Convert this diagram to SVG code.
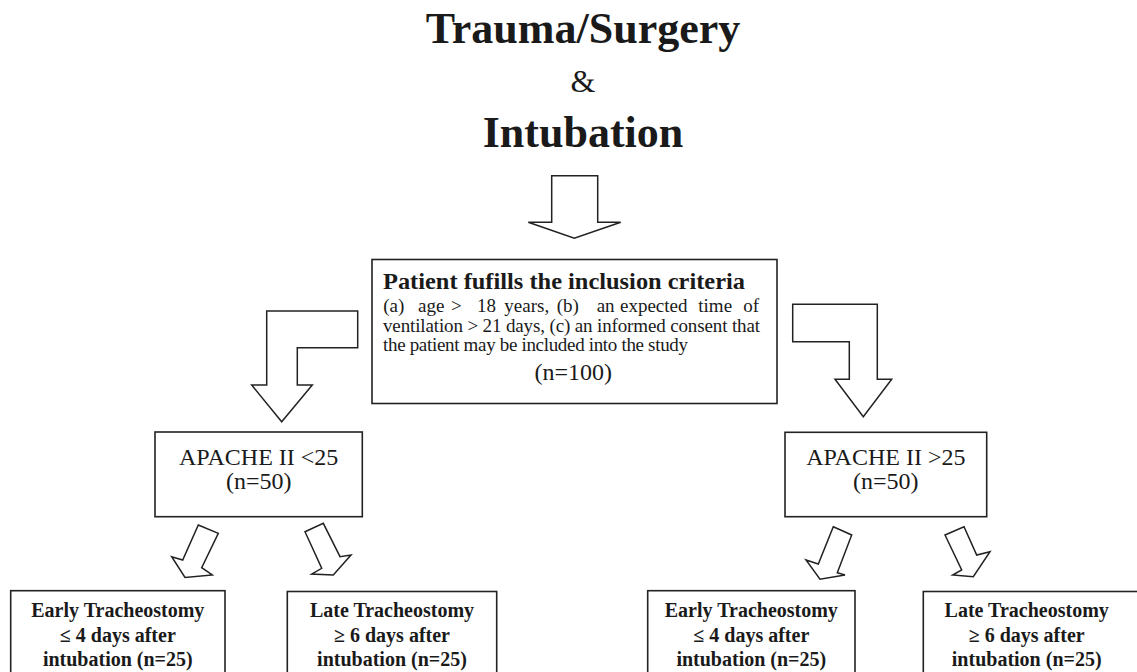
<svg xmlns="http://www.w3.org/2000/svg" width="1137" height="672" viewBox="0 0 1137 672">
<style>
.box{fill:#fff;stroke:#222;stroke-width:1.6}
.arr{fill:#fff;stroke:#222;stroke-width:1.5;stroke-linejoin:miter}
.t{font-family:"Liberation Serif","Times New Roman",serif;fill:#1a1a1a}
.b{font-weight:bold}
.c{text-anchor:middle}
</style>
<rect width="1137" height="672" fill="#fff"/>
<g id="title">
<text class="t b c" x="583" y="43" font-size="44">Trauma/Surgery</text>
<text class="t c" x="583" y="92" font-size="32">&amp;</text>
<text class="t b c" x="583" y="147" font-size="44">Intubation</text>
</g>
<g id="connectors">
<path class="arr" d="M551.7,175.7 L597.7,175.7 L597.7,222.3 L620.7,222.3 L574.3,238.3 L528.3,222.3 L551.7,222.3 Z"/>
<path class="arr" d="M266.7,311 L357.7,311 L357.7,347.7 L297.3,347.7 L297.3,385 L312.3,385 L281.7,421.7 L251.7,385 L266.7,385 Z"/>
<path class="arr" d="M792.7,304.3 L877.3,304.3 L877.3,379.3 L891.7,379.3 L863.3,416.7 L835,379.3 L849.3,379.3 L849.3,341.7 L792.7,341.7 Z"/>
<path class="arr" d="M198.3,525 L218.3,533.3 L201.7,567.7 L212.3,575 L185,577.5 L171.7,556.7 L182.7,560 Z"/>
<path class="arr" d="M305,531.7 L323.3,523.3 L340,556.7 L351,555 L333.3,575 L311.7,574 L321.7,568.3 Z"/>
<path class="arr" d="M833.3,526.7 L851.7,535 L837.3,572.7 L845,575 L820,579.3 L806,560 L818.3,564 Z"/>
<path class="arr" d="M945,535 L964,526.7 L976.7,555 L990,551.7 L973.3,576.7 L952.7,575 L961.7,570 Z"/>
</g>
<g id="inclusion">
<rect class="box" x="372" y="259.5" width="405" height="144"/>
<text class="t b" x="383" y="289" font-size="24" textLength="362" lengthAdjust="spacingAndGlyphs">Patient fufills the inclusion criteria</text>
<g class="t" font-size="19">
<text x="383.3" y="312">(a)</text>
<text x="418" y="312">age</text>
<text x="451" y="312">&gt;</text>
<text x="477" y="312">18</text>
<text x="504.3" y="312">years,</text>
<text x="556.7" y="312">(b)</text>
<text x="596.7" y="312">an</text>
<text x="620" y="312">expected</text>
<text x="698.3" y="312">time</text>
<text x="743.3" y="312">of</text>
<text x="383" y="331.7" textLength="377" lengthAdjust="spacing">ventilation &gt; 21 days, (c) an informed consent that</text>
<text x="383" y="351" textLength="305" lengthAdjust="spacing">the patient may be included into the study</text>
</g>
<text class="t c" x="573.3" y="380" font-size="24">(n=100)</text>
</g>
<g id="apache-low">
<rect class="box" x="155" y="432" width="207.3" height="84.7"/>
<text class="t c" x="258.7" y="465" font-size="24">APACHE II &lt;25</text>
<text class="t c" x="258.7" y="489" font-size="24">(n=50)</text>
</g>
<g id="apache-high">
<rect class="box" x="785" y="432.3" width="201.7" height="84.4"/>
<text class="t c" x="885.8" y="465" font-size="24">APACHE II &gt;25</text>
<text class="t c" x="885.8" y="489" font-size="24">(n=50)</text>
</g>
<g id="early-low">
<rect class="box" x="10.7" y="590.7" width="214.3" height="100"/>
<text class="t b c" x="117.8" y="616.7" font-size="20">Early Tracheostomy</text>
<text class="t b c" x="117.8" y="641.7" font-size="20">≤ 4 days after</text>
<text class="t b c" x="117.8" y="665.5" font-size="20">intubation (n=25)</text>
</g>
<g id="late-low">
<rect class="box" x="287.3" y="591.5" width="209.4" height="100"/>
<text class="t b c" x="392" y="616.7" font-size="20">Late Tracheostomy</text>
<text class="t b c" x="392" y="641.7" font-size="20">≥ 6 days after</text>
<text class="t b c" x="392" y="665.5" font-size="20">intubation (n=25)</text>
</g>
<g id="early-high">
<rect class="box" x="647.7" y="590.7" width="207.3" height="100"/>
<text class="t b c" x="751.3" y="616.7" font-size="20">Early Tracheostomy</text>
<text class="t b c" x="751.3" y="641.7" font-size="20">≤ 4 days after</text>
<text class="t b c" x="751.3" y="665.5" font-size="20">intubation (n=25)</text>
</g>
<g id="late-high">
<rect class="box" x="923.3" y="591.5" width="230" height="100"/>
<text class="t b c" x="1026.7" y="616.7" font-size="20">Late Tracheostomy</text>
<text class="t b c" x="1026.7" y="641.7" font-size="20">≥ 6 days after</text>
<text class="t b c" x="1026.7" y="665.5" font-size="20">intubation (n=25)</text>
</g>
</svg>
